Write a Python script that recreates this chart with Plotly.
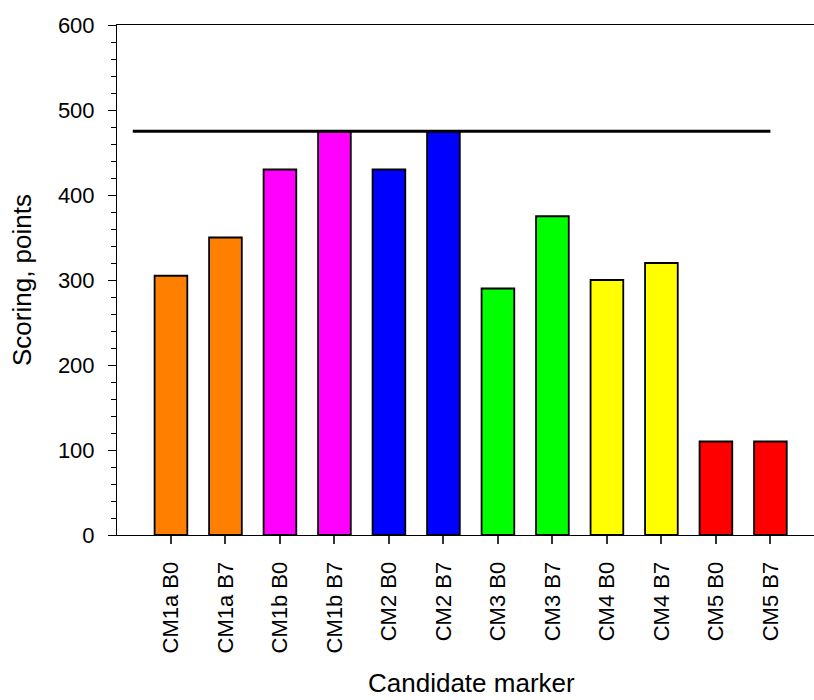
import plotly.graph_objects as go

# Candidate markers and their scores
markers = ["CM1a B0", "CM1a B7", "CM1b B0", "CM1b B7", "CM2 B0", "CM2 B7",
           "CM3 B0", "CM3 B7", "CM4 B0", "CM4 B7", "CM5 B0", "CM5 B7"]
scores = [305, 350, 430, 475, 430, 475, 290, 375, 300, 320, 110, 110]
bar_colors = ["#FF8000", "#FF8000", "#FF00FF", "#FF00FF", "#0000FF", "#0000FF",
              "#00FF00", "#00FF00", "#FFFF00", "#FFFF00", "#FF0000", "#FF0000"]

# Maximum attainable score (reference line)
max_score = 475
line_x = [-0.7, 11]

positions = list(range(len(markers)))
font_family = "Liberation Sans, Arial, sans-serif"

fig = go.Figure()
fig.add_trace(go.Bar(
    x=positions, y=scores, width=0.6,
    marker=dict(color=bar_colors, line=dict(color="black", width=1.8)),
    showlegend=False,
))
fig.add_trace(go.Scatter(
    x=line_x, y=[max_score, max_score], mode="lines",
    line=dict(color="black", width=3), showlegend=False,
))

fig.update_layout(
    width=814, height=700,
    margin=dict(l=117, r=0, t=25, b=165),
    plot_bgcolor="white", paper_bgcolor="white",
    font=dict(family=font_family, size=22, color="black"),
    annotations=[dict(
        text="Candidate marker", xref="paper", yref="paper",
        x=0.5093, y=-0.291, xanchor="center", yanchor="middle",
        showarrow=False, font=dict(size=26),
    )],
)
fig.update_xaxes(
    range=[-0.99, 11.8],
    tickmode="array", tickvals=positions, ticktext=markers,
    tickangle=-90, ticks="outside", ticklen=8, tickwidth=1.5, tickcolor="#333",
    ticklabelstandoff=9,
    showline=True, linecolor="black", linewidth=1, mirror=True,
    showgrid=False, zeroline=False,
)
fig.update_yaxes(
    range=[0, 600], dtick=100, tick0=0,
    ticks="outside", ticklen=8, tickwidth=1, tickcolor="black",
    ticklabelstandoff=9,
    minor=dict(dtick=20, ticks="outside", ticklen=5, tickcolor="black", tickwidth=1),
    showline=True, linecolor="black", linewidth=1,
    showgrid=False, zeroline=False,
    title=dict(text="Scoring, points", font=dict(size=26), standoff=18),
)

fig.write_html("out.html")
